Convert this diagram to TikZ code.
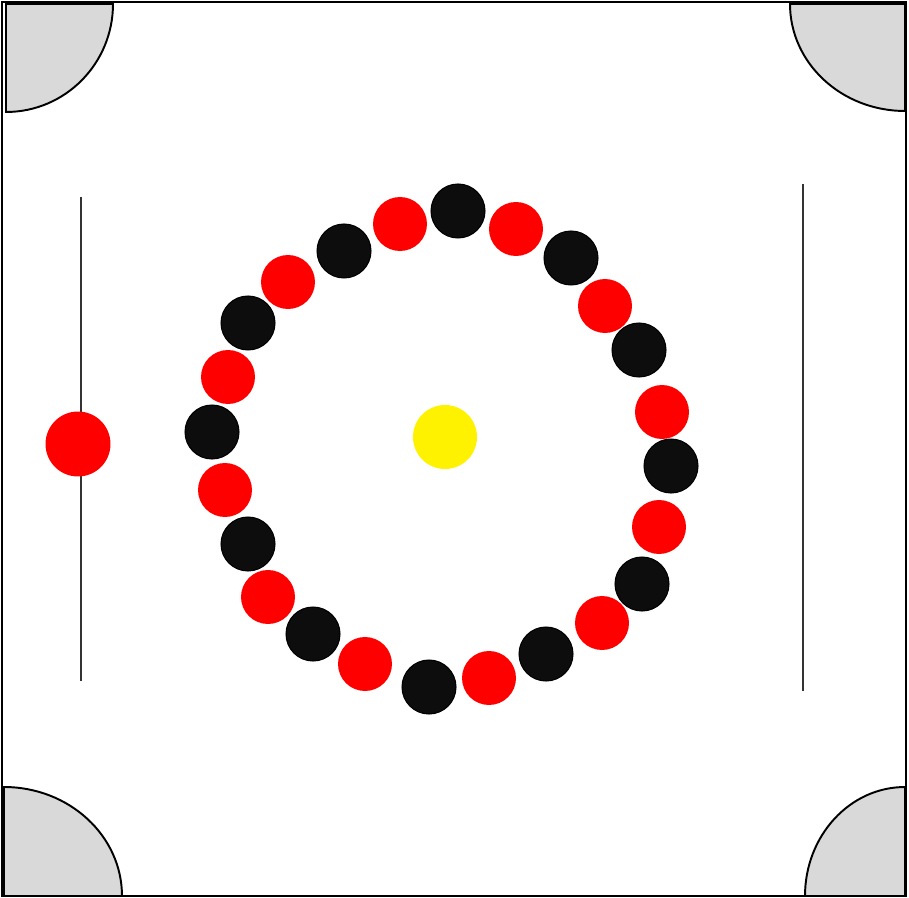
\documentclass[tikz,border=0pt]{standalone}
\usepackage{tikz}
\usetikzlibrary{positioning}

\begin{document}
\begin{tikzpicture}[
  x=0.02cm, y=-0.02cm,
  pocket/.style={draw, line width=1.1pt, fill=gray!30},
  board/.style={draw, line width=1.4pt},
  baseline/.style={draw=black!80, line width=0.6pt},
  blackman/.style={circle, draw, line width=0.6pt, fill=black!95,
                   minimum size=10.8mm, inner sep=0pt},
  redman/.style={circle, fill=red, minimum size=10.8mm, inner sep=0pt},
  queen/.style={circle, fill=yellow, minimum size=12.8mm, inner sep=0pt},
  striker/.style={circle, fill=red, minimum size=13mm, inner sep=0pt}
]
\useasboundingbox (0,0) rectangle (909,898);
% board frame
\draw[board] (2,2) rectangle (906,896);
% corner pockets
\draw[pocket] (6,4) -- (113,4) arc[start angle=0, end angle=90, x radius=107, y radius=108] -- cycle;
\draw[pocket] (905,4) -- (905,111) arc[start angle=90, end angle=180, x radius=115, y radius=107] -- cycle;
\draw[pocket] (4,896) -- (4,787) arc[start angle=270, end angle=360, x radius=118, y radius=109] -- cycle;
\draw[pocket] (905,896) -- (805,896) arc[start angle=180, end angle=270, x radius=100, y radius=109] -- cycle;
% base lines
\coordinate (LA) at (81,197);
\coordinate (LB) at (81,681);
\coordinate (RA) at (803,184);
\coordinate (RB) at (803,691);
\draw[baseline] (LA) -- (LB);
\draw[baseline] (RA) -- (RB);
% striker and queen
\node[striker] (S) at (78,444) {};
\node[queen]   (Q) at (445,437) {};
% black men
\node[blackman] (B1)  at (458,211) {};
\node[blackman] (B2)  at (571,258) {};
\node[blackman] (B3)  at (639,350) {};
\node[blackman] (B4)  at (671,466) {};
\node[blackman] (B5)  at (642,584) {};
\node[blackman] (B6)  at (546,654) {};
\node[blackman] (B7)  at (429,687) {};
\node[blackman] (B8)  at (313,634) {};
\node[blackman] (B9)  at (248,544) {};
\node[blackman] (B10) at (212,432) {};
\node[blackman] (B11) at (248,323) {};
\node[blackman] (B12) at (344,251) {};
% red men
\node[redman] (R1)  at (516,229) {};
\node[redman] (R2)  at (605,306) {};
\node[redman] (R3)  at (662,412) {};
\node[redman] (R4)  at (659,527) {};
\node[redman] (R5)  at (602,623) {};
\node[redman] (R6)  at (489,678) {};
\node[redman] (R7)  at (365,664) {};
\node[redman] (R8)  at (268,597) {};
\node[redman] (R9)  at (225,490) {};
\node[redman] (R10) at (228,377) {};
\node[redman] (R11) at (288,282) {};
\node[redman] (R12) at (400,224) {};
\end{tikzpicture}
\end{document}
